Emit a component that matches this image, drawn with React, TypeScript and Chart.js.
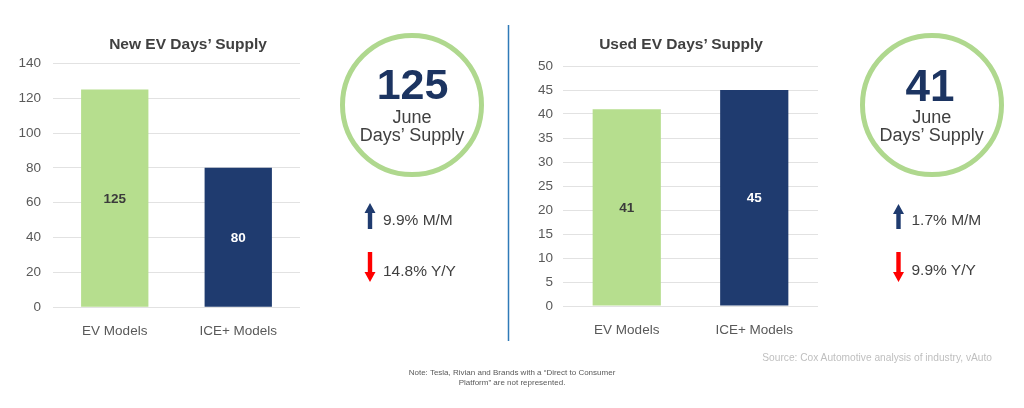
import React, { useEffect, useRef } from "react";
import { Chart, registerables } from "chart.js";

Chart.register(...registerables);

// ---- data ----
const categories = ["EV Models", "ICE+ Models"];
const newSupplyValues = [125, 80];
const usedSupplyValues = [41, 45];
const newAxisMax = 140;
const newAxisStep = 20;
const usedAxisMax = 50;
const usedAxisStep = 5;
const barColors = ["#b6de8e", "#1f3b6f"];
const barLabelColors = ["#3b3b3b", "#ffffff"];

const newTitle = "New EV Days\u2019 Supply";
const usedTitle = "Used EV Days\u2019 Supply";
const newHeadline = "125";
const usedHeadline = "41";
const headlineSub1 = "June";
const headlineSub2 = "Days\u2019 Supply";
const newMoM = "9.9% M/M";
const newYoY = "14.8% Y/Y";
const usedMoM = "1.7% M/M";
const usedYoY = "9.9% Y/Y";
const noteLine1 = "Note: Tesla, Rivian and Brands with a \u201cDirect to Consumer";
const noteLine2 = "Platform\u201d are not represented.";
const sourceText = "Source: Cox Automotive analysis of industry, vAuto";

const FONT = "'Liberation Sans', Arial, Helvetica, sans-serif";

const barLabelPlugin = {
  id: "barLabels",
  afterDatasetsDraw(chart: any) {
    const ctx = chart.ctx;
    const meta = chart.getDatasetMeta(0);
    const ds = chart.data.datasets[0];
    ctx.save();
    ctx.font = `bold 13.5px ${FONT}`;
    ctx.textAlign = "center";
    ctx.textBaseline = "middle";
    meta.data.forEach((el: any, i: number) => {
      const p = el.getProps(["x", "y", "base"], true);
      ctx.fillStyle = barLabelColors[i];
      ctx.fillText(String(ds.data[i]), p.x, (p.y + p.base) / 2 + 1);
    });
    ctx.restore();
  },
};

type ChartSpec = {
  values: number[];
  max: number;
  step: number;
  catPct: number;
  yWidth: number;
  yPad: number;
  xHeight: number;
  padTop: number;
  padRight: number;
};

function makeConfig(s: ChartSpec): any {
  return {
    type: "bar",
    data: {
      labels: categories,
      datasets: [
        {
          data: s.values,
          backgroundColor: barColors,
          borderWidth: 0,
          barPercentage: 1,
          categoryPercentage: s.catPct,
        },
      ],
    },
    options: {
      responsive: false,
      maintainAspectRatio: false,
      animation: false,
      devicePixelRatio: 1,
      layout: { padding: { top: s.padTop, right: s.padRight, left: 0, bottom: 0 } },
      plugins: {
        legend: { display: false },
        tooltip: { enabled: false },
        title: { display: false },
      },
      scales: {
        x: {
          grid: { display: false },
          border: { display: false },
          ticks: {
            color: "#595959",
            font: { family: FONT, size: 13.5 },
            padding: 8,
            maxRotation: 0,
          },
          afterFit: (scale: any) => {
            scale.height = s.xHeight;
          },
        },
        y: {
          min: 0,
          max: s.max,
          grid: { color: "#e2e2e2", lineWidth: 1, drawTicks: false },
          border: { display: false },
          ticks: {
            stepSize: s.step,
            color: "#595959",
            font: { family: FONT, size: 13.5 },
            padding: s.yPad,
          },
          afterFit: (scale: any) => {
            scale.width = s.yWidth;
          },
        },
      },
    },
    plugins: [barLabelPlugin],
  };
}

function BarChart(props: { spec: ChartSpec; left: number; top: number; width: number; height: number }) {
  const ref = useRef<HTMLCanvasElement | null>(null);
  useEffect(() => {
    if (!ref.current) return;
    const chart = new Chart(ref.current, makeConfig(props.spec));
    return () => chart.destroy();
  }, []);
  return (
    <canvas
      ref={ref}
      width={props.width}
      height={props.height}
      style={{
        position: "absolute",
        left: props.left,
        top: props.top,
        width: props.width,
        height: props.height,
      }}
    />
  );
}

function Txt(props: {
  x: number;
  y: number;
  text: string;
  size: number;
  color: string;
  bold?: boolean;
  align?: "center" | "left" | "right";
}) {
  const align = props.align || "center";
  const w = 400;
  const lh = Math.round(props.size * 1.3);
  let left = props.x - w / 2;
  if (align === "left") left = props.x;
  if (align === "right") left = props.x - w;
  return (
    <div
      style={{
        position: "absolute",
        left,
        top: props.y - lh / 2,
        width: w,
        height: lh,
        lineHeight: lh + "px",
        fontSize: props.size,
        fontWeight: props.bold ? 700 : 400,
        color: props.color,
        textAlign: align,
        whiteSpace: "nowrap",
        fontFamily: FONT,
      }}
    >
      {props.text}
    </div>
  );
}

function Ring(props: { cx: number; cy: number; r: number }) {
  return (
    <div
      style={{
        position: "absolute",
        left: props.cx - props.r,
        top: props.cy - props.r,
        width: props.r * 2,
        height: props.r * 2,
        boxSizing: "border-box",
        border: "5px solid #afd88e",
        borderRadius: "50%",
      }}
    />
  );
}

function Arrow(props: { x: number; top: number; bottom: number; up: boolean; color: string }) {
  const { x, top, bottom, up, color } = props;
  const hw = 5.5;
  const hh = 10;
  const sw = 2.2;
  const pts = up
    ? `${x},${top} ${x + hw},${top + hh} ${x + sw},${top + hh} ${x + sw},${bottom} ${x - sw},${bottom} ${x - sw},${top + hh} ${x - hw},${top + hh}`
    : `${x},${bottom} ${x + hw},${bottom - hh} ${x + sw},${bottom - hh} ${x + sw},${top} ${x - sw},${top} ${x - sw},${bottom - hh} ${x - hw},${bottom - hh}`;
  return <polygon points={pts} fill={color} />;
}

export default function App() {
  useEffect(() => {
    document.body.style.margin = "0";
  }, []);

  const newSpec: ChartSpec = {
    values: newSupplyValues,
    max: newAxisMax,
    step: newAxisStep,
    catPct: 0.545,
    yWidth: 53,
    yPad: 12,
    xHeight: 37.7,
    padTop: 63.3,
    padRight: 10,
  };
  const usedSpec: ChartSpec = {
    values: usedSupplyValues,
    max: usedAxisMax,
    step: usedAxisStep,
    catPct: 0.535,
    yWidth: 53,
    yPad: 10,
    xHeight: 39,
    padTop: 66,
    padRight: 10,
  };

  return (
    <div
      style={{
        position: "fixed",
        left: 0,
        top: 0,
        width: 1024,
        height: 408,
        background: "#ffffff",
        overflow: "hidden",
        fontFamily: FONT,
      }}
    >
      <BarChart spec={newSpec} left={0} top={0} width={310} height={345} />
      <BarChart spec={usedSpec} left={510} top={0} width={318} height={345} />

      <Txt x={188} y={44} text={newTitle} size={15.5} bold color="#404040" />
      <Txt x={681} y={44} text={usedTitle} size={15.5} bold color="#404040" />

      <svg
        width={1024}
        height={408}
        style={{ position: "absolute", left: 0, top: 0, pointerEvents: "none" }}
      >
        <line x1={508.5} y1={25} x2={508.5} y2={341} stroke="#2f7ab8" strokeWidth={1.5} />
        <Arrow x={370} top={203} bottom={229} up color="#1f3b6f" />
        <Arrow x={370} top={252} bottom={282} up={false} color="#ff0000" />
        <Arrow x={898.5} top={204} bottom={229} up color="#1f3b6f" />
        <Arrow x={898.5} top={252} bottom={282} up={false} color="#ff0000" />
      </svg>

      <Ring cx={412} cy={104.7} r={72} />
      <Ring cx={931.7} cy={105} r={72} />

      <Txt x={412.5} y={84} text={newHeadline} size={43} bold color="#1c3461" />
      <Txt x={412} y={117.5} text={headlineSub1} size={18} color="#404040" />
      <Txt x={412} y={135.5} text={headlineSub2} size={18} color="#404040" />

      <Txt x={930} y={85} text={usedHeadline} size={44} bold color="#1c3461" />
      <Txt x={931.7} y={117.5} text={headlineSub1} size={18} color="#404040" />
      <Txt x={931.7} y={135.5} text={headlineSub2} size={18} color="#404040" />

      <Txt x={383} y={219.5} text={newMoM} size={15.5} color="#404040" align="left" />
      <Txt x={383} y={270.5} text={newYoY} size={15.5} color="#404040" align="left" />
      <Txt x={911.5} y={219.5} text={usedMoM} size={15.5} color="#404040" align="left" />
      <Txt x={911.5} y={270} text={usedYoY} size={15.5} color="#404040" align="left" />

      <Txt x={512} y={373} text={noteLine1} size={8} color="#595959" />
      <Txt x={512} y={383} text={noteLine2} size={8} color="#595959" />

      <Txt x={992} y={357.5} text={sourceText} size={10.2} color="#bfbfbf" align="right" />
    </div>
  );
}
